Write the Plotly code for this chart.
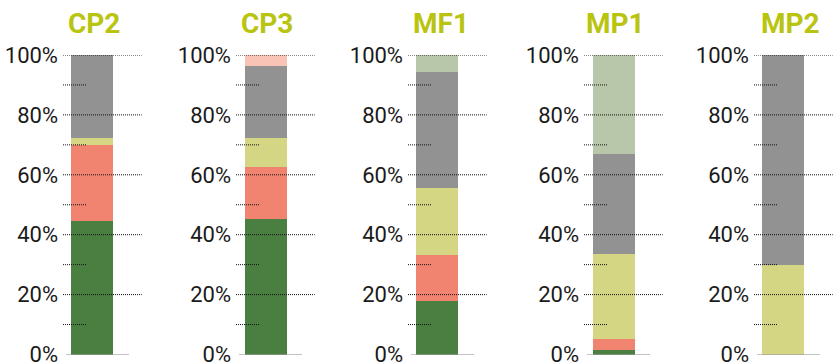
import plotly.graph_objects as go

# ---- data ----
categories = ["CP2", "CP3", "MF1", "MP1", "MP2"]
dark_green = [44.7, 45.3, 18.0, 1.4, 0.0]
salmon = [25.4, 17.4, 15.3, 3.7, 0.0]
yellow = [2.3, 9.6, 22.3, 28.3, 29.8]
grey = [27.6, 24.0, 38.7, 33.7, 70.2]
light_salmon = [0.0, 3.7, 0.0, 0.0, 0.0]
light_green = [0.0, 0.0, 5.7, 32.9, 0.0]
tick_vals = [0, 20, 40, 60, 80, 100]
tick_text = ["0%", "20%", "40%", "60%", "80%", "100%"]
minor_vals = [10, 30, 50, 70, 90]

series = [
    ("Dark green", dark_green, "#4b7f42"),
    ("Salmon", salmon, "#f08470"),
    ("Yellow", yellow, "#d4d683"),
    ("Grey", grey, "#929292"),
    ("Light salmon", light_salmon, "#f9c3b5"),
    ("Light green", light_green, "#b8c7aa"),
]

# ---- layout geometry (pixels) ----
W, H = 833, 364
grid_start = [63, 236, 408, 584, 754]
grid_len = 78.7
bar_off = [8, 9, 8, 9, 8]
bar_w = 41.7
title_cx = [93.5, 267.3, 441, 615.5, 790.3]
y_top_px, y_bot_px = 55, 354.5

fig = go.Figure()
for i, cat in enumerate(categories):
    n = "" if i == 0 else str(i + 1)
    for name, vals, col in series:
        fig.add_trace(go.Bar(
            x=[cat], y=[vals[i]], name=name, marker=dict(color=col, line=dict(width=0)),
            width=1, xaxis="x" + n, yaxis="y" + n, showlegend=False,
        ))
    x0 = grid_start[i] / W
    x1 = min(grid_start[i] + grid_len, W) / W
    units = grid_len / bar_w
    r0 = -0.5 - bar_off[i] / bar_w
    fig.update_layout(**{
        "xaxis" + n: dict(domain=[x0, x1], range=[r0, r0 + units], visible=False,
                          anchor="y" + n, fixedrange=True, automargin=False),
        "yaxis" + n: dict(domain=[1 - y_bot_px / H, 1 - y_top_px / H], range=[0, 100],
                          anchor="x" + n, tickvals=tick_vals, ticktext=tick_text,
                          showgrid=False, zeroline=False, showline=False, ticks="",
                          ticklabelstandoff=4, automargin=False, ticklabeloverflow="allow",
                          fixedrange=True,
                          tickfont=dict(family="Roboto", size=22, color="#1a1a1a")),
    })
    xref_d = "x" + n + " domain"
    yref = "y" + n
    line = dict(color="#111111", width=1, dash="1px,1px")
    for v in tick_vals[1:]:
        fig.add_shape(type="line", xref=xref_d, yref=yref, x0=0, x1=1, y0=v, y1=v,
                      line=line, layer="above")
    for v in minor_vals:
        fig.add_shape(type="line", xref=xref_d, yref=yref, x0=0, x1=24 / grid_len, y0=v, y1=v,
                      line=line, layer="above")
    fig.add_shape(type="line", xref=xref_d, yref=yref, x0=3.5 / grid_len, x1=66 / grid_len,
                  y0=0, y1=0, line=line, layer="above")
    fig.add_annotation(text="<b>" + cat + "</b>", xref="paper", yref="paper",
                       x=title_cx[i] / W, y=1 - 24 / H, xanchor="center", yanchor="middle",
                       showarrow=False,
                       font=dict(family="Roboto", size=28, color="#b8c40f"))

fig.update_layout(
    width=W, height=H, barmode="stack",
    margin=dict(l=0, r=0, t=0, b=0),
    paper_bgcolor="white", plot_bgcolor="rgba(0,0,0,0)",
)
fig.write_html("out.html", config={"displayModeBar": False},
               post_script="document.body.style.margin='0px';")
